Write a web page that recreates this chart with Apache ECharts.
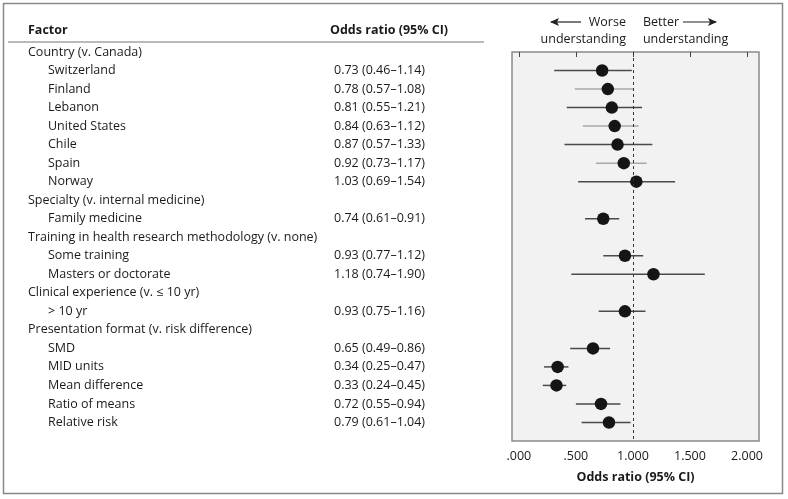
<!DOCTYPE html>
<html><head><meta charset="utf-8">
<script src="https://cdn.jsdelivr.net/npm/echarts@6/dist/echarts.min.js"></script>
<style>html,body{margin:0;padding:0;background:#fff}#c{width:788px;height:499px}</style>
</head><body><div id="c"></div>
<script>
// ---- data ----
const rowLabels = ['Country (v. Canada)','Switzerland','Finland','Lebanon','United States','Chile','Spain','Norway',
  'Specialty (v. internal medicine)','Family medicine',
  'Training in health research methodology (v. none)','Some training','Masters or doctorate',
  'Clinical experience (v. \u2264 10 yr)','> 10 yr',
  'Presentation format (v. risk difference)','SMD','MID units','Mean difference','Ratio of means','Relative risk'];
const rowIsGroup = [1,0,0,0,0,0,0,0,1,0,1,0,0,1,0,1,0,0,0,0,0];
const ciText = ['','0.73 (0.46\u20131.14)','0.78 (0.57\u20131.08)','0.81 (0.55\u20131.21)','0.84 (0.63\u20131.12)','0.87 (0.57\u20131.33)','0.92 (0.73\u20131.17)','1.03 (0.69\u20131.54)',
  '','0.74 (0.61\u20130.91)','','0.93 (0.77\u20131.12)','1.18 (0.74\u20131.90)','','0.93 (0.75\u20131.16)',
  '','0.65 (0.49\u20130.86)','0.34 (0.25\u20130.47)','0.33 (0.24\u20130.45)','0.72 (0.55\u20130.94)','0.79 (0.61\u20131.04)'];
// plotted marks
const oddsRatio = [null,0.73,0.78,0.815,0.84,0.865,0.92,1.03,null,0.74,null,0.93,1.18,null,0.93,null,0.65,0.34,0.33,0.72,0.79];
const ciLow  = [null,0.31,0.49,0.42,0.56,0.40,0.675,0.52,null,0.58,null,0.74,0.46,null,0.70,null,0.45,0.22,0.21,0.50,0.55];
const ciHigh = [null,0.99,1.00,1.08,1.05,1.17,1.12,1.37,null,0.88,null,1.09,1.63,null,1.11,null,0.80,0.435,0.415,0.89,0.98];
const xTicks = [0,0.5,1,1.5,2];
const refValue = 1;

const FONT = '"Open Sans", "Noto Sans", sans-serif';
const chart = echarts.init(document.getElementById('c'), null, {renderer:'canvas'});

const ciData = [], ptData = [];
oddsRatio.forEach((v,i)=>{ if(v!=null){ ciData.push([ciLow[i], ciHigh[i], i]); ptData.push([v, i]); } });

chart.setOption({
  animation:false,
  grid:{left:512, right:29, top:52, bottom:58, show:true, backgroundColor:'#f2f2f2', borderColor:'#8a8a8a', borderWidth:1.5},
  xAxis:{type:'value', min:-0.06, max:2.105,
    axisLine:{show:false},
    axisTick:{show:true, length:5, customValues:xTicks, lineStyle:{color:'#444'}},
    axisLabel:{customValues:xTicks, margin:9, color:'#1a1a1a', fontFamily:FONT, fontSize:12.5,
      formatter:v=>v.toFixed(3).replace(/^0/,'')},
    splitLine:{show:false},
    name:'Odds ratio (95% CI)', nameLocation:'middle', nameGap:30,
    nameTextStyle:{fontFamily:FONT, fontWeight:'bold', fontSize:12.5, color:'#1a1a1a'}},
  yAxis:{type:'value', min:0, max:21, inverse:true, show:false},
  series:[
    {type:'custom', data:ciData, z:2, encode:{x:[0,1], y:2},
     renderItem:(params, api)=>{
       const i = api.value(2);
       const a = api.coord([api.value(0), i]);
       const b = api.coord([api.value(1), i]);
       const light = (i<=7 && i%2===0);
       return {type:'line', shape:{x1:a[0], y1:a[1], x2:b[0], y2:b[1]},
               style:{stroke: light ? '#a8a8a8' : '#4a4a4a', lineWidth:1.5}};
     }},
    {type:'scatter', data:ptData, symbolSize:12.5, z:4, itemStyle:{color:'#151515', opacity:1},
     markLine:{silent:true, symbol:'none', label:{show:false},
       lineStyle:{type:[3,3], color:'#333', width:1}, data:[{xAxis:refValue}]}}
  ]
});

function build(){
  const g = [];
  g.push({type:'rect', shape:{x:3.5, y:3.5, width:779, height:490}, style:{fill:'none', stroke:'#888', lineWidth:1.5}, silent:true});
  const txt = (t,x,y,opt={})=>g.push({type:'text', style:Object.assign({text:t, x:x, y:y, fill:'#1a1a1a', font:'12.5px '+FONT, verticalAlign:'middle', align:'left'}, opt), silent:true});
  txt('Factor', 28, 30, {font:'bold 12.5px '+FONT});
  txt('Odds ratio (95% CI)', 330, 30, {font:'bold 12.5px '+FONT});
  g.push({type:'line', shape:{x1:8, y1:42, x2:484, y2:42}, style:{stroke:'#777', lineWidth:1.2}, silent:true});
  rowLabels.forEach((lab,i)=>{
    const y = chart.convertToPixel({yAxisIndex:0}, i);
    txt(lab, rowIsGroup[i] ? 28 : 48, y);
    if(ciText[i]) txt(ciText[i], 334, y);
  });
  // direction annotations
  const xr = chart.convertToPixel({xAxisIndex:0}, refValue);
  txt('Worse', xr-7, 22, {align:'right'});
  txt('understanding', xr-7, 39, {align:'right'});
  txt('Better', xr+10, 22);
  txt('understanding', xr+10, 39);
  const arrow = (x1,x2,y)=>{
    g.push({type:'line', shape:{x1:x1, y1:y, x2:x2, y2:y}, style:{stroke:'#222', lineWidth:1.2}, silent:true});
    const d = x2>x1 ? 1 : -1;
    g.push({type:'polygon', shape:{points:[[x2+d*1,y],[x2-d*8,y-4],[x2-d*6,y],[x2-d*8,y+4]]}, style:{fill:'#222'}, silent:true});
  };
  arrow(581, 551, 22);
  arrow(683, 716, 22);
  chart.setOption({graphic:g});
}
build();
</script>
</body></html>
